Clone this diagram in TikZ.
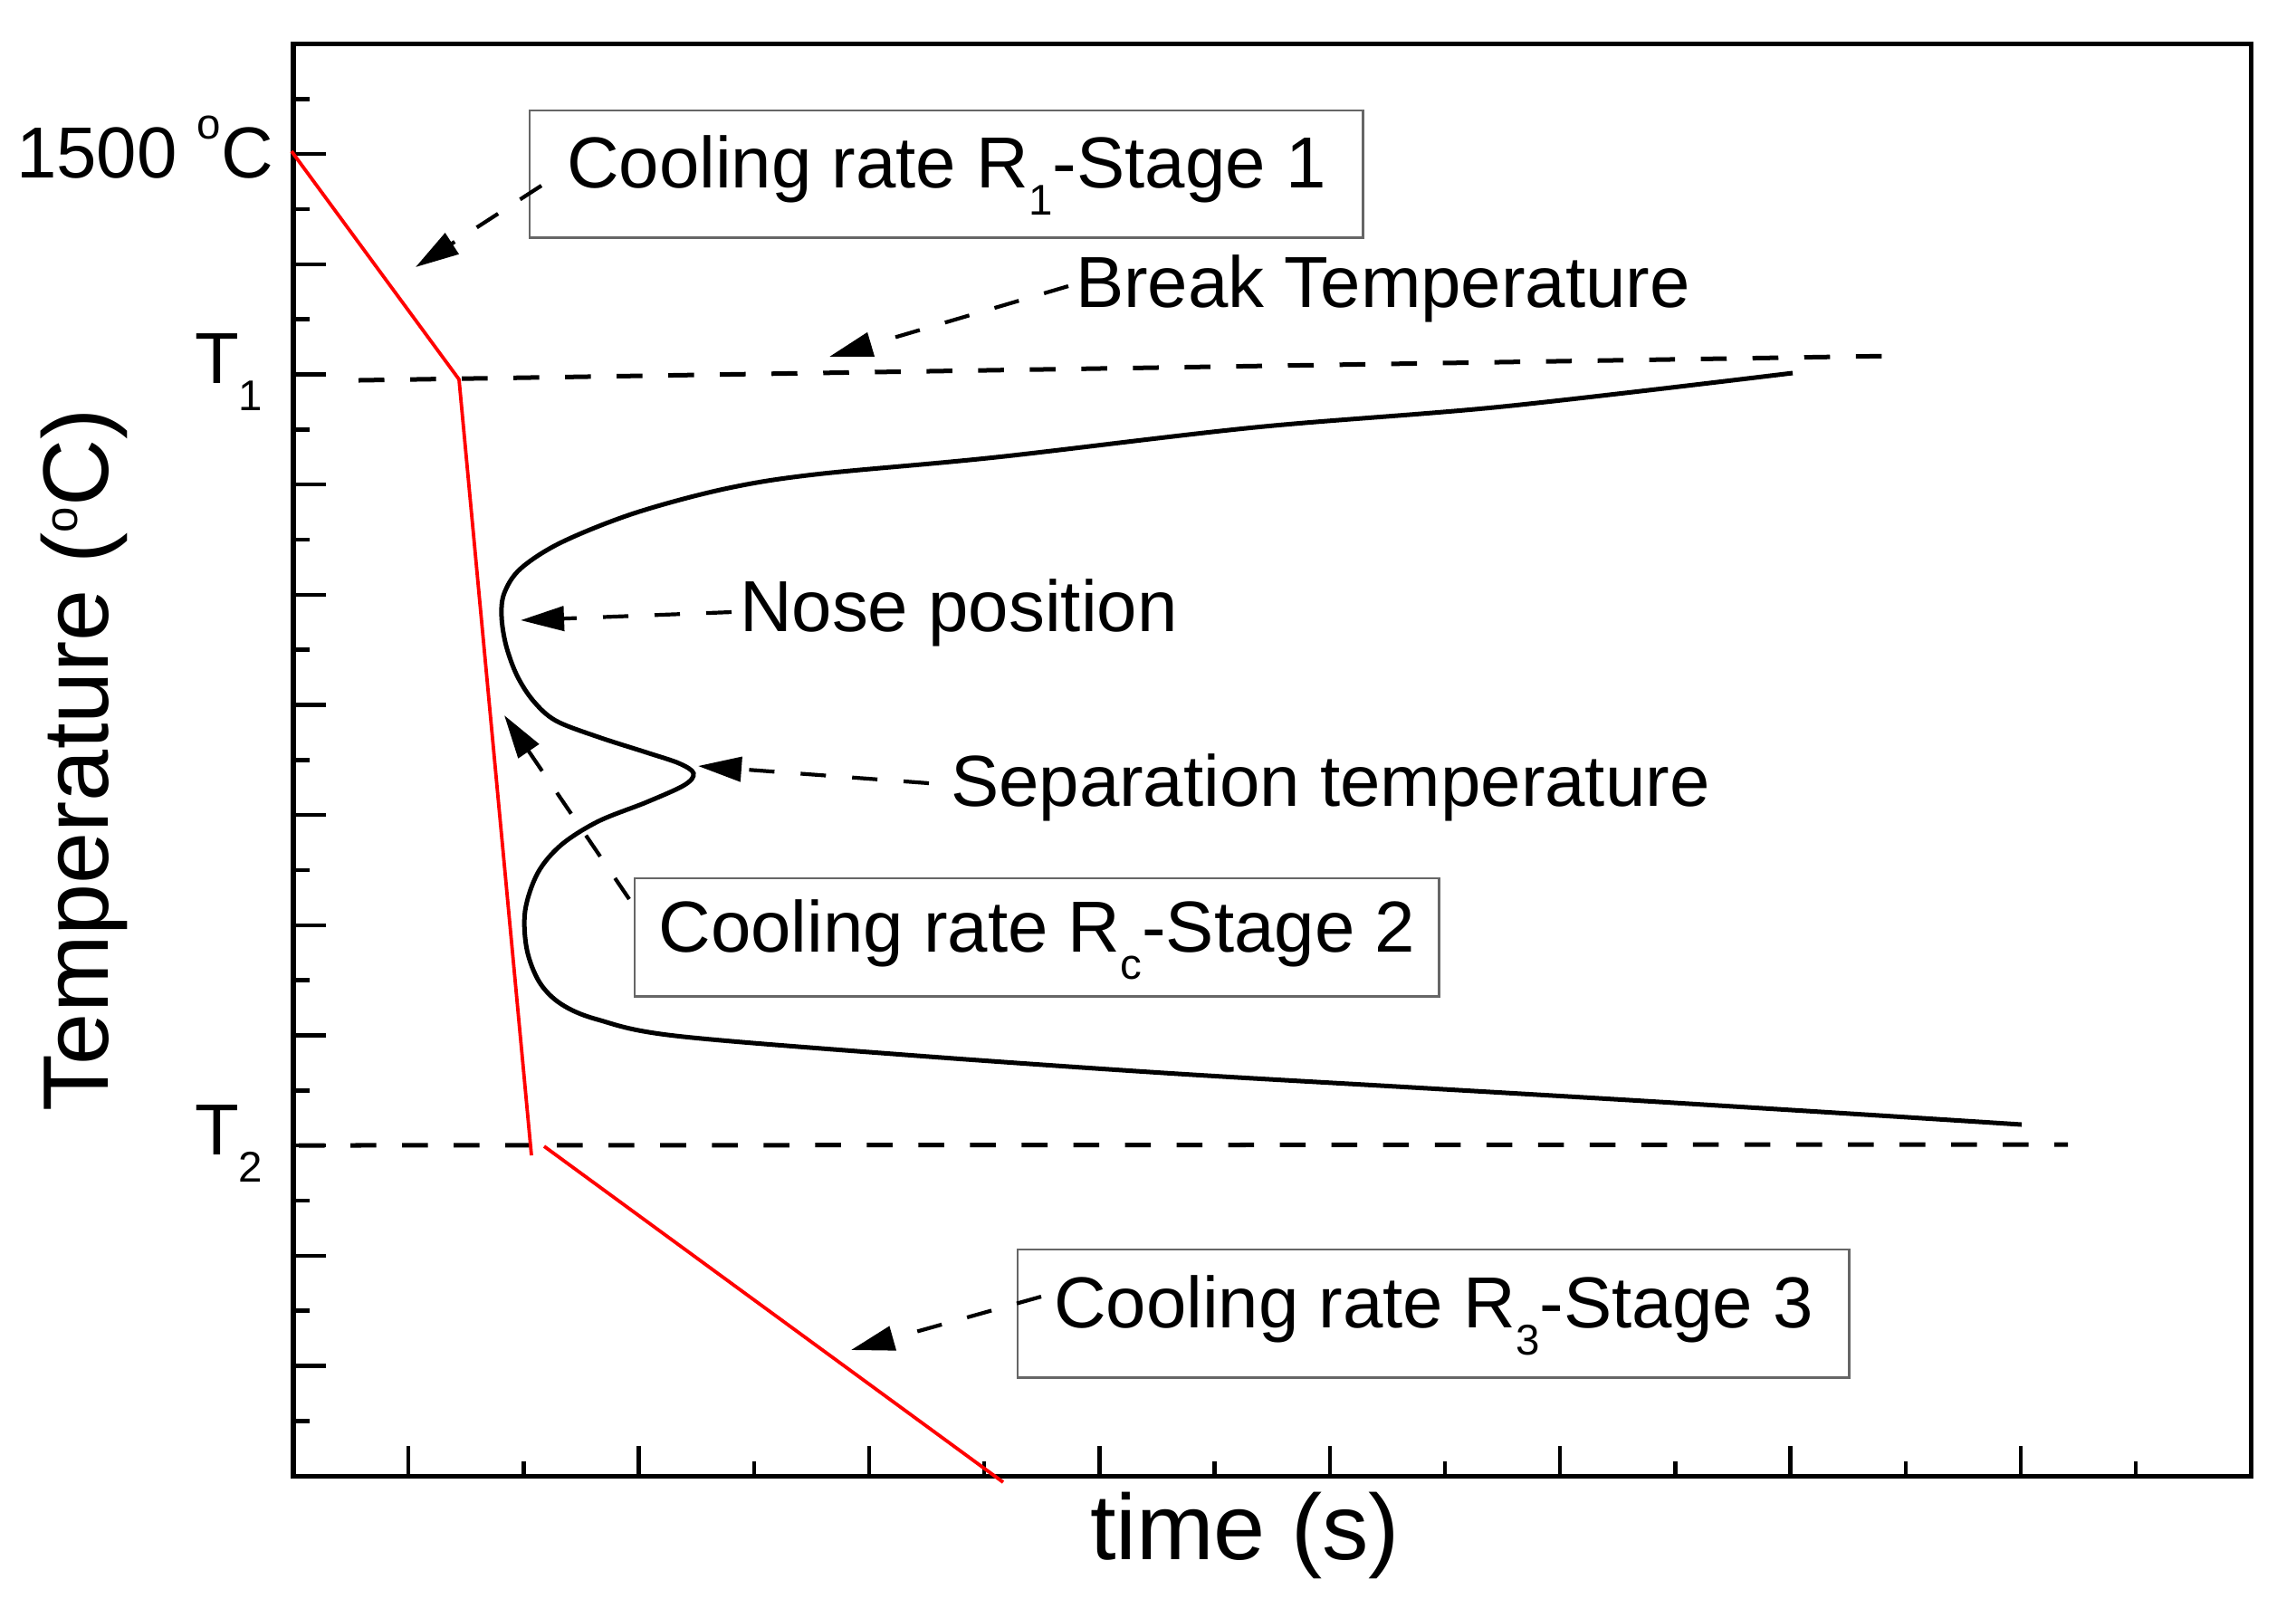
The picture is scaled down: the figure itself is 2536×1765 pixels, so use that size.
\documentclass[tikz,border=0pt]{standalone}
\usepackage{fontspec}
\setmainfont{Liberation Sans}
\usetikzlibrary{arrows.meta}
\newcommand{\subtxt}[1]{\raisebox{-0.30cm}{\fontsize{13.5pt}{13.5pt}\selectfont #1}}
\newcommand{\degsup}[2]{\raisebox{#1}{\fontsize{#2}{#2}\selectfont o}}
\begin{document}
\begin{tikzpicture}[x=0.01cm, y=-0.01cm,
  every node/.style={inner sep=0, outer sep=0},
  lbl/.style={font=\fontsize{22.7pt}{26pt}\selectfont},
  axlbl/.style={font=\fontsize{29.2pt}{33pt}\selectfont},
  frameline/.style={line width=0.055cm},
  tickline/.style={line width=0.045cm},
  guide/.style={line width=0.05cm, dash pattern=on 0.285cm off 0.285cm},
  cool/.style={red, line width=0.038cm},
  ccurve/.style={line width=0.05cm},
  note/.style={line width=0.042cm, dash pattern=on 0.28cm off 0.29cm, -{Triangle[length=0.48cm,width=0.27cm]}},
  boxed/.style={draw=black!60, line width=0.028cm, lbl, anchor=north west},
]
\useasboundingbox (0,0) rectangle (2536,1765);

% guide lines T1 and T2
\coordinate (g1a) at (396,420); \coordinate (g1b) at (2095,393);
\coordinate (g2a) at (330,1265); \coordinate (g2b) at (2284,1264);
\draw[guide] (g1a) -- (g1b);
\draw[guide] (g2a) -- (g2b);

% C-curve
\draw[ccurve] plot[smooth, tension=0.55] coordinates {
 (1980,412) (1660,449) (1386,472) (1100,505) (900,524) (800,540) (700,567)
 (620,599) (575,628) (557,655) (554,681) (559,713) (571,746) (589,774)
 (614,796) (661,814) (714,831) (750,843) (766,854) (756,867) (714,886)
 (661,907) (620,933) (594,964) (580,1006) (582,1049) (596,1085) (620,1109)
 (660,1126) (746,1144) (1000,1165) (1286,1185) (1560,1201) (1800,1215)
 (2060,1231) (2233,1242)};

% frame and ticks
\draw[frameline] (324,48.5) rectangle (2486.5,1630.5);
\foreach \j in {1,3,...,15} \draw[tickline] (324+127.2*\j,1630.5) -- ++(0,-34);
\foreach \j in {2,4,...,16} \draw[tickline] (324+127.2*\j,1630.5) -- ++(0,-17);
\foreach \k in {1,...,12} \draw[tickline] (324,48.5+121.67*\k) -- ++(36,0);
\foreach \k in {0,...,12} \draw[tickline] (324,48.5+121.67*\k+60.83) -- ++(18,0);

% cooling path
\coordinate (r0) at (322,167); \coordinate (r1) at (507,419);
\coordinate (r2) at (587,1276); \coordinate (r3) at (601,1266);
\coordinate (r4) at (1108,1637);
\draw[cool, line join=round] (r0) -- (r1) -- (r2);
\draw[cool] (r3) -- (r4);

% axis labels
\node[lbl, anchor=base east] (t1500) at (302,196) {1500 \degsup{0.42cm}{13.5pt}C};
\node[lbl, anchor=base west] (tone) at (215,423) {T\subtxt{1}};
\node[lbl, anchor=base west] (ttwo) at (215,1275.5) {T\subtxt{2}};
\node[axlbl, rotate=90, anchor=base] (ylab) at (120,839.5) {Temperature (\degsup{0.34cm}{14.5pt}C)};
\node[axlbl, anchor=base west] (xlab) at (1204,1722) {time (s)};

% boxes
\node[boxed, text height=0.85cm, text depth=0.55cm, minimum width=9.2cm] (box1) at (585,122) {Cooling rate R\subtxt{1}-Stage 1};
\node[boxed, text height=0.81cm, text depth=0.49cm, minimum width=8.88cm] (box2) at (701,970) {Cooling rate R\subtxt{c}-Stage 2};
\node[boxed, text height=0.86cm, text depth=0.55cm, minimum width=9.18cm] (box3) at (1124,1380) {Cooling rate R\subtxt{3}-Stage 3};

% free labels
\node[lbl, anchor=base west] (brk) at (1188,339) {Break Temperature};
\node[lbl, anchor=base west] (nose) at (817,697) {Nose position};
\node[lbl, anchor=base west] (sep) at (1050,890) {Separation temperature};

% annotation arrows
\coordinate (a1s) at (598,205);  \coordinate (a1e) at (459,295);
\coordinate (abs) at (1180,316); \coordinate (abe) at (916,394);
\coordinate (ans) at (808,676);  \coordinate (ane) at (575,685);
\coordinate (ass) at (1026,865); \coordinate (ase) at (771,846);
\coordinate (a2s) at (695,993);  \coordinate (a2e) at (557,790);
\coordinate (a3s) at (1150,1432); \coordinate (a3e) at (940,1491);
\draw[note] (a1s) -- (a1e);
\draw[note] (abs) -- (abe);
\draw[note] (ans) -- (ane);
\draw[note] (ass) -- (ase);
\draw[note] (a2s) -- (a2e);
\draw[note] (a3s) -- (a3e);
\end{tikzpicture}
\end{document}
